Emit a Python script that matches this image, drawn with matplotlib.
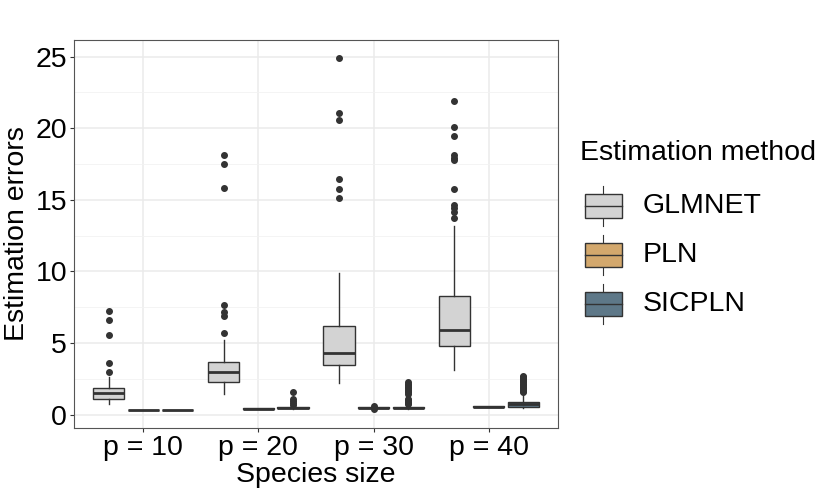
import matplotlib
matplotlib.use("Agg")
import matplotlib.pyplot as plt
from matplotlib.patches import Rectangle

plt.rcParams["font.family"] = ["Liberation Sans", "DejaVu Sans"]

# data
sizes = ["p = 10", "p = 20", "p = 30", "p = 40"]
methods = ["GLMNET", "PLN", "SICPLN"]
colors = ["#D3D3D3", "#D3A86D", "#5E7888"]

# box stats per method, one entry per species size: (whislo, q1, med, q3, whishi)
glmnet_stats = [(0.75, 1.12, 1.49, 1.86, 2.6),
                (1.45, 2.28, 2.95, 3.68, 5.2),
                (2.21, 3.44, 4.31, 6.17, 9.89),
                (3.12, 4.77, 5.94, 8.31, 13.18)]
glmnet_fliers = [[3.0, 3.63, 5.59, 6.59, 7.21],
                 [5.68, 6.9, 7.14, 7.68, 15.8, 17.5, 18.1],
                 [15.15, 15.74, 16.45, 20.56, 21.07, 24.9],
                 [13.76, 14.18, 14.41, 14.64, 15.78, 17.8, 17.94, 18.13, 19.45, 20.1, 21.93]]

pln_stats = [(0.31, 0.32, 0.33, 0.34, 0.35),
             (0.41, 0.42, 0.43, 0.44, 0.46),
             (0.46, 0.48, 0.49, 0.51, 0.53),
             (0.54, 0.55, 0.57, 0.58, 0.6)]
pln_fliers = [[], [], [0.42, 0.58], []]

sicpln_stats = [(0.3, 0.32, 0.33, 0.35, 0.36),
                (0.4, 0.44, 0.47, 0.52, 0.58),
                (0.42, 0.47, 0.5, 0.55, 0.68),
                (0.5, 0.57, 0.72, 0.92, 1.4)]
sicpln_fliers = [[],
                 [0.65, 0.81, 0.95, 1.11, 1.55],
                 [0.75, 0.8, 0.9, 1.0, 1.1, 1.45, 1.55, 1.65, 1.75, 1.85, 1.95, 2.05, 2.15, 2.25],
                 [1.55, 1.65, 1.75, 1.85, 1.95, 2.05, 2.15, 2.25, 2.35, 2.42, 2.5, 2.58, 2.65, 2.72]]

all_stats = [glmnet_stats, pln_stats, sicpln_stats]
all_fliers = [glmnet_fliers, pln_fliers, sicpln_fliers]

edge = "#333333"
fs = 20.5

fig = plt.figure(figsize=(8.3, 4.98), dpi=100)
ax = fig.add_axes([74 / 830, 1 - 428 / 498, 484 / 830, 388 / 498])

for j, m in enumerate(methods):
    bxp = []
    for i in range(len(sizes)):
        lo, q1, med, q3, hi = all_stats[j][i]
        bxp.append(dict(whislo=lo, q1=q1, med=med, q3=q3, whishi=hi,
                        fliers=all_fliers[j][i], label=sizes[i]))
    pos = [i + 1 + (j - 1) * 0.3 for i in range(len(sizes))]
    ax.bxp(bxp, positions=pos, widths=0.27, patch_artist=True, showcaps=False,
           boxprops=dict(facecolor=colors[j], edgecolor=edge, linewidth=1.0),
           medianprops=dict(color=edge, linewidth=2.0),
           whiskerprops=dict(color=edge, linewidth=1.0),
           flierprops=dict(marker="o", markersize=4, markerfacecolor=edge,
                           markeredgecolor=edge, linestyle="none"),
           zorder=3)

ax.set_xlim(0.4, 4.6)
ax.set_ylim(-0.93, 26.16)
ax.set_xticks([1, 2, 3, 4])
ax.set_xticklabels(sizes)
ax.set_yticks([0, 5, 10, 15, 20, 25])
ax.set_yticks([2.5, 7.5, 12.5, 17.5, 22.5], minor=True)
ax.set_xticks([], minor=True)
ax.grid(True, which="major", color="#EBEBEB", linewidth=1.1, zorder=0)
ax.grid(True, which="minor", axis="y", color="#F2F2F2", linewidth=0.6, zorder=0)
ax.set_axisbelow(True)
for s in ax.spines.values():
    s.set_color("#555555")
    s.set_linewidth(0.8)
ax.tick_params(axis="both", which="major", labelsize=fs, colors="#333333",
               labelcolor="black", length=3, width=0.8, pad=2)
ax.tick_params(axis="y", which="minor", length=0)
ax.set_xlabel("Species size", fontsize=fs, labelpad=1)
ax.set_ylabel("Estimation errors", fontsize=fs, labelpad=4)

# legend drawn by hand in pixel coordinates
lg = fig.add_axes([0, 0, 1, 1])
lg.set_xlim(0, 830)
lg.set_ylim(498, 0)
lg.axis("off")
lg.text(580, 153, "Estimation method", fontsize=fs, va="center", ha="left")
for j, m in enumerate(methods):
    cy = 206 + j * 49
    lg.plot([603, 603], [cy - 20, cy + 20], color=edge, linewidth=0.8)
    lg.add_patch(Rectangle((585, cy - 12), 37, 24, facecolor=colors[j],
                           edgecolor=edge, linewidth=1.0, zorder=3))
    lg.plot([585, 622], [cy, cy], color=edge, linewidth=1.0, zorder=4)
    lg.text(643, cy, m, fontsize=fs, va="center", ha="left")

fig.savefig("out.png", dpi=100)
